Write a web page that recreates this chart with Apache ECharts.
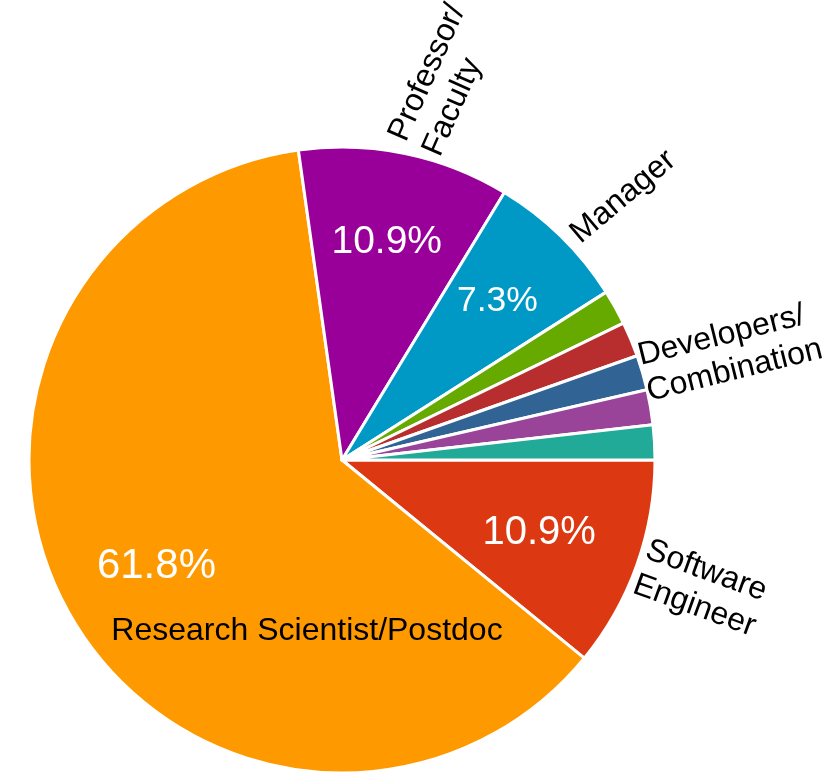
<!DOCTYPE html>
<html>
<head>
<meta charset="utf-8">
<title>Current position</title>
<script src="https://cdn.jsdelivr.net/npm/echarts@6/dist/echarts.min.js"></script>
<style>
  html, body { margin: 0; padding: 0; background: #ffffff; }
  #chart { width: 827px; height: 772px; }
</style>
</head>
<body>
<div id="chart"></div>
<script>
// Slices, clockwise from 3 o'clock
const categories = [
  'Software Engineer',
  'Research Scientist/Postdoc',
  'Professor/Faculty',
  'Manager',
  'Other 1',
  'Other 2',
  'Developers/Combination',
  'Other 3',
  'Other 4'
];
// Share of respondents, percent
const shares = [10.9, 61.8, 10.9, 7.3, 1.8, 1.8, 1.8, 1.8, 1.8];
// Text printed beside / on each slice ('' = no name label)
const nameLabels = [
  'Software\nEngineer',
  'Research Scientist/Postdoc',
  'Professor/\nFaculty',
  'Manager',
  '',
  '',
  'Developers/\nCombination',
  '',
  ''
];
// Which slices carry a percentage label
const showPercent = [true, true, true, true, false, false, false, false, false];

const colors = ['#DC3912', '#FF9900', '#990099', '#0099C6', '#66AA00',
                '#B82E2E', '#316395', '#994499', '#22AA99'];

// label styling per slice
const nameRotate = [-20, 0, 66, 40, 0, 0, 14, 0, 0];
const nameOffset = [[0, 0], [104, 93], [6, 7], [6, 10], [0, 0], [0, 0], [-4, 2], [0, 0], [0, 0]];
const percentFont = [40, 42, 39, 35.5, 0, 0, 0, 0, 0];
const percentOffset = [[-12, -2], [8, -3], [0, 0], [0, 0], [0, 0], [0, 0], [0, 0], [0, 0], [0, 0]];

const FONT = '"Liberation Sans", Arial, Helvetica, sans-serif';
const CENTER = [342, 460];
const RADIUS = 313;

const mainData = categories.map((name, i) => {
  const item = {
    name: name,
    value: shares[i],
    itemStyle: { color: colors[i] }
  };
  if (!nameLabels[i]) {
    item.label = { show: false };
  } else if (i === 1) {
    // the large slice keeps its name inside
    item.label = {
      show: true,
      position: 'inside',
      formatter: () => nameLabels[i],
      offset: nameOffset[i],
      color: '#000',
      width: 440,
      overflow: 'none'
    };
  } else {
    item.label = {
      show: true,
      position: 'outside',
      rotate: nameRotate[i],
      offset: nameOffset[i],
      formatter: () => nameLabels[i],
      width: 240,
      overflow: 'none'
    };
  }
  return item;
});

const percentData = categories.map((name, i) => ({
  name: name,
  value: shares[i],
  label: showPercent[i]
    ? { show: true, fontSize: percentFont[i], offset: percentOffset[i] }
    : { show: false }
}));

const chart = echarts.init(document.getElementById('chart'), null, { renderer: 'canvas' });
chart.setOption({
  backgroundColor: '#ffffff',
  animation: false,
  series: [
    {
      type: 'pie',
      center: CENTER,
      radius: RADIUS,
      startAngle: 0,
      clockwise: true,
      silent: true,
      avoidLabelOverlap: false,
      itemStyle: { borderColor: '#ffffff', borderWidth: 3 },
      label: {
        color: '#000',
        fontFamily: FONT,
        fontSize: 32,
        lineHeight: 37,
        align: 'left',
        distanceToLabelLine: 0
      },
      labelLine: { show: false, length: 4, length2: 0 },
      emphasis: { disabled: true },
      data: mainData
    },
    {
      // transparent twin whose inside labels sit ~70% out from the centre
      type: 'pie',
      center: CENTER,
      radius: RADIUS * 1.4,
      startAngle: 0,
      clockwise: true,
      silent: true,
      avoidLabelOverlap: false,
      z: 3,
      itemStyle: { color: 'rgba(0,0,0,0)', borderWidth: 0 },
      label: {
        position: 'inside',
        color: '#ffffff',
        fontFamily: FONT,
        formatter: p => p.value.toFixed(1) + '%'
      },
      labelLine: { show: false },
      emphasis: { disabled: true },
      data: percentData
    }
  ]
});
</script>
</body>
</html>
